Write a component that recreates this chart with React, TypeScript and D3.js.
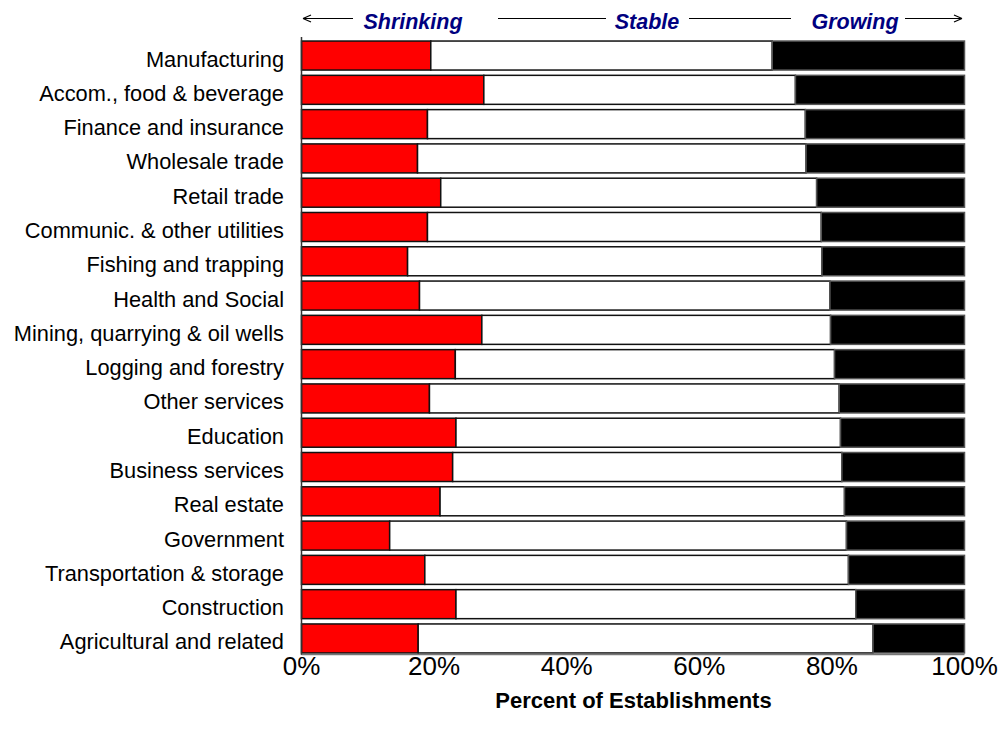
import React, { useEffect, useRef } from "react";
import * as d3 from "d3";

const categories = [
  "Manufacturing",
  "Accom., food & beverage",
  "Finance and insurance",
  "Wholesale trade",
  "Retail trade",
  "Communic. & other utilities",
  "Fishing and trapping",
  "Health and Social",
  "Mining, quarrying & oil wells",
  "Logging and forestry",
  "Other services",
  "Education",
  "Business services",
  "Real estate",
  "Government",
  "Transportation & storage",
  "Construction",
  "Agricultural and related",
];

const shrinking = [19.5, 27.5, 19.0, 17.5, 21.0, 19.0, 16.0, 17.8, 27.2, 23.2, 19.3, 23.3, 22.8, 20.9, 13.3, 18.6, 23.3, 17.6];
const stable = [51.5, 47.0, 57.0, 58.6, 56.7, 59.4, 62.5, 61.9, 52.6, 57.2, 61.8, 58.0, 58.7, 61.0, 68.9, 63.9, 60.3, 68.6];
const growing = [29.0, 25.5, 24.0, 23.9, 22.3, 21.6, 21.5, 20.3, 20.2, 19.6, 18.9, 18.7, 18.5, 18.1, 17.8, 17.5, 16.4, 13.8];

const tickValues = [0, 20, 40, 60, 80, 100];
const seriesNames = ["Shrinking", "Stable", "Growing"];
const seriesColors = ["#ff0000", "#ffffff", "#000000"];

const FONT = "Liberation Sans, Arial, sans-serif";

export default function App() {
  const ref = useRef<SVGSVGElement | null>(null);

  useEffect(() => {
    const svg = d3.select(ref.current);
    svg.selectAll("*").remove();

    const x = d3.scaleLinear().domain([0, 100]).range([301.5, 964.5]);
    const y = d3
      .scaleBand<string>()
      .domain(categories)
      .range([38.4, 655.6])
      .paddingInner(0.154)
      .paddingOuter(0.077);

    const rows = categories.map((c, i) => {
      const vals = [shrinking[i], stable[i], growing[i]];
      let acc = 0;
      return vals.map((v, k) => {
        const s = { cat: c, k, x0: acc, x1: acc + v };
        acc += v;
        return s;
      });
    });

    const g = svg.append("g");

    rows.forEach((segs) => {
      segs.forEach((s) => {
        g.append("rect")
          .attr("x", x(s.x0))
          .attr("y", y(s.cat)!)
          .attr("width", Math.max(0, x(Math.min(100, s.x1)) - x(s.x0)))
          .attr("height", y.bandwidth())
          .attr("fill", seriesColors[s.k])
          .attr("stroke", s.k === 2 ? "#555" : "#111")
          .attr("stroke-width", 1.5);
      });
    });

    g.append("line")
      .attr("x1", x(0))
      .attr("x2", x(0))
      .attr("y1", 37)
      .attr("y2", 655)
      .attr("stroke", "#333")
      .attr("stroke-width", 1.5);
    g.append("line")
      .attr("x1", x(0))
      .attr("x2", x(100))
      .attr("y1", 654.5)
      .attr("y2", 654.5)
      .attr("stroke", "#777")
      .attr("stroke-width", 1.5);

    g.selectAll("text.cat")
      .data(categories)
      .enter()
      .append("text")
      .attr("class", "cat")
      .attr("x", 284)
      .attr("y", (d) => y(d)! + y.bandwidth() / 2 + 11)
      .attr("text-anchor", "end")
      .attr("font-family", FONT)
      .attr("font-size", 21.8)
      .attr("fill", "#000")
      .text((d) => d);

    g.selectAll("text.tick")
      .data(tickValues)
      .enter()
      .append("text")
      .attr("class", "tick")
      .attr("x", (d) => x(d))
      .attr("y", 675)
      .attr("text-anchor", "middle")
      .attr("font-family", FONT)
      .attr("font-size", 26)
      .attr("fill", "#000")
      .text((d) => d + "%");

    g.append("text")
      .attr("x", 633.5)
      .attr("y", 708)
      .attr("text-anchor", "middle")
      .attr("font-family", FONT)
      .attr("font-size", 22)
      .attr("font-weight", "bold")
      .attr("fill", "#000")
      .text("Percent of Establishments");

    const hy = 18.5;
    const headerX = [413, 647, 855];
    seriesNames.forEach((n, i) => {
      g.append("text")
        .attr("x", headerX[i])
        .attr("y", 29)
        .attr("text-anchor", "middle")
        .attr("font-family", FONT)
        .attr("font-size", 21.5)
        .attr("font-weight", "bold")
        .attr("font-style", "italic")
        .attr("fill", "#000080")
        .text(n);
    });
    const segs: [number, number][] = [
      [304, 353],
      [498, 606],
      [689, 791],
      [905, 961],
    ];
    segs.forEach(([a, b]) => {
      g.append("line")
        .attr("x1", a)
        .attr("x2", b)
        .attr("y1", hy)
        .attr("y2", hy)
        .attr("stroke", "#000")
        .attr("stroke-width", 1.2);
    });
    g.append("path")
      .attr("d", `M303,${hy} L311,${hy - 3.5} M303,${hy} L311,${hy + 3.5}`)
      .attr("stroke", "#000")
      .attr("stroke-width", 1.2)
      .attr("fill", "none");
    g.append("path")
      .attr("d", `M962,${hy} L954,${hy - 3.5} M962,${hy} L954,${hy + 3.5}`)
      .attr("stroke", "#000")
      .attr("stroke-width", 1.2)
      .attr("fill", "none");
  }, []);

  return (
    <svg
      ref={ref}
      width={1001}
      height={738}
      style={{ position: "absolute", left: 0, top: 0, background: "#fff" }}
    />
  );
}
